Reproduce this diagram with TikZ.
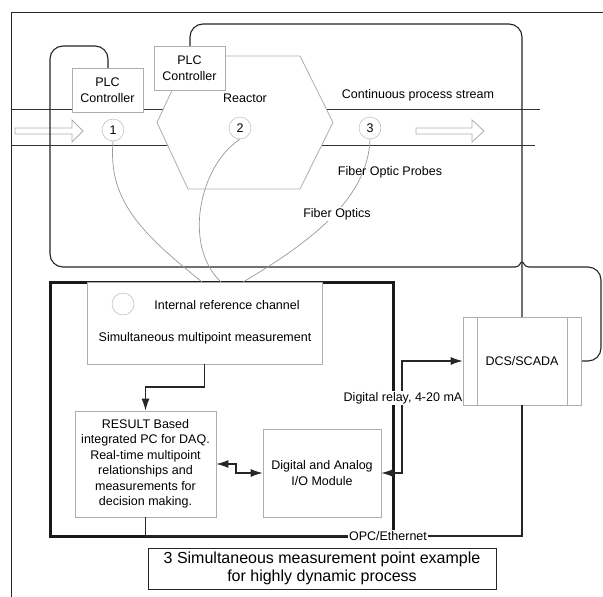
\documentclass[tikz,border=0pt]{standalone}
\usepackage{fontspec}
\setmainfont{Liberation Sans}
\usetikzlibrary{arrows.meta,positioning,calc}
\definecolor{boxgray}{gray}{0.68}
\definecolor{fibergray}{gray}{0.6}
\tikzset{
  box/.style={draw=boxgray, fill=white, line width=0.8pt, align=center, inner sep=0pt},
  probe/.style={circle, draw=boxgray, fill=white, minimum size=22pt, inner sep=0pt},
  ctrl/.style={draw=black!85, line width=1.1pt},
  fiber/.style={draw=fibergray, line width=0.7pt},
  tip/.style={-{Latex[length=12pt,width=8pt]}},
  bothtips/.style={{Latex[length=12pt,width=8pt]}-{Latex[length=12pt,width=8pt]}},
  flow/.style={draw=boxgray, fill=white, line width=0.8pt},
}
\begin{document}
\begin{tikzpicture}[x=1pt, y=-1pt, font=\fontsize{12.5}{15.5}\selectfont]
    \fill [white] (0,0) rectangle (603,597);
    \useasboundingbox (0,0) rectangle (603,597);

    % Frame
    \draw [line width=0.9pt, black!85] (603,12) -- (11,12) -- (11,597);

    % Process stream
    \draw [line width=0.9pt, black!80] (11,109) -- (540,109);
    \draw [line width=0.9pt, black!80] (11,145) -- (535,145);
    \draw [flow] (15,128) -- (72,128) -- (72,120) -- (83,131) -- (72,142) -- (72,134) -- (15,134) -- cycle;
    \draw [flow] (416,128) -- (472,128) -- (472,120) -- (484,131) -- (472,142) -- (472,134) -- (416,134) -- cycle;
    \node (stream) at (418,95) {Continuous process stream};

    % Reactor
    \draw [box] (188,56) -- (300,56) -- (333,122.5) -- (300,189) -- (188,189) -- (157,122.5) -- cycle;
    \node (reactor) at (245,98) {Reactor};

    % Control loops
    \draw [ctrl, rounded corners=13] (108,68) |- (50,46) -- (50,267) -- (515,267);
    \draw [ctrl] (515,267) .. controls (520,267) and (520,262) .. (522,262)
        .. controls (524,262) and (524,267) .. (529,267);
    \draw [ctrl, rounded corners=13] (529,267) -- (601,267) |- (581,361);
    \draw [ctrl, rounded corners=13] (190,46) |- (522,24) -- (522,317);

    % PLC controllers
    \node [box, minimum width=71pt, minimum height=44pt] (plcA) at (107.5,90) {PLC\\Controller};
    \node [box, minimum width=71pt, minimum height=44pt] (plcB) at (189.5,68) {PLC\\Controller};

    % Probes
    \node [probe] (p1) at (113,130) {1};
    \node [probe] (p2) at (240,128) {2};
    \node [probe] (p3) at (370,128) {3};

    % Acquisition unit
    \draw [line width=3pt, black!90] (50,282) rectangle (393,536);
    \node [box, minimum width=235pt, minimum height=82pt] (meas) at (204.5,323) {};
    \node [probe] (ref) at (123,304) {};
    \node (refText) at (227,305) {Internal reference channel};
    \node (measText) at (205,338) {Simultaneous multipoint measurement};

    % Fiber optics
    \coordinate (f1) at (202,282);
    \coordinate (f2) at (221,282);
    \coordinate (f3) at (243,282);
    \draw [fiber] (p1.south) .. controls (108,200) and (140,232) .. (f1);
    \draw [fiber] (p2.south) .. controls (200,165) and (182,245) .. (f2);
    \draw [fiber] (p3.south) .. controls (368,195) and (318,238) .. (f3);
    \node (probes) at (390,172) {Fiber Optic Probes};
    \node [fill=white, inner sep=1pt] (fibers) at (337,214) {Fiber Optics};

    % PC and I/O
    \node [box, minimum width=141pt, minimum height=106pt] (res) at (145.5,464)
        {RESULT Based\\integrated PC for DAQ.\\Real-time multipoint\\relationships and\\measurements for\\decision making.};
    \node [box, minimum width=118pt, minimum height=88pt] (io) at (322,473) {Digital and Analog\\I/O Module};
    \draw [ctrl, tip] (meas.south) -- (204.5,387) -| (res.north);
    \draw [ctrl, bothtips] (res.east) -- (236,464) |- (io.west);

    % DCS
    \node [box, minimum width=118pt, minimum height=88pt] (dcs) at (522,361) {DCS/SCADA};
    \draw [boxgray, line width=0.8pt] ([xshift=15pt]dcs.north west) -- ([xshift=15pt]dcs.south west);
    \draw [boxgray, line width=0.8pt] ([xshift=-14pt]dcs.north east) -- ([xshift=-14pt]dcs.south east);
    \draw [ctrl, bothtips] (io.east) -- (402,473) |- (dcs.west);
    \node [fill=white, inner sep=1pt] (relay) at (403,398) {Digital relay, 4-20 mA};
    \node [fill=white, inner sep=1pt] (opc) at (388,536) {OPC/Ethernet};
    \draw [ctrl] (res.south) |- (opc.west);
    \draw [ctrl] (opc.east) -| (dcs.south);

    % Caption
    \node [draw=black!85, line width=0.9pt, fill=white, align=center, minimum width=348pt, minimum height=41pt,
        inner sep=0pt, font=\fontsize{16}{18}\selectfont] (caption) at (322,568.5)
        {3 Simultaneous measurement point example\\for highly dynamic process};
\end{tikzpicture}
\end{document}
